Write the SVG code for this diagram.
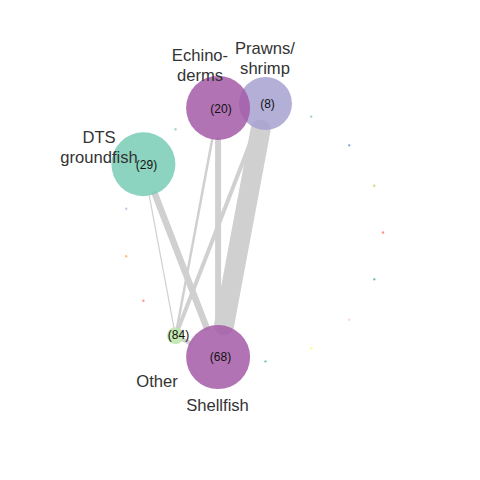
<svg xmlns="http://www.w3.org/2000/svg" width="480" height="480" viewBox="0 0 480 480">
  <style>
    .edge { stroke: #d0d0d0; stroke-linecap: round; fill: none; }
    .node { opacity: 0.85; }
    .dot { opacity: 0.85; }
    .label { font-family: "Liberation Sans", Arial, sans-serif; font-size: 16.6px; fill: #333333; text-anchor: middle; }
    .count { font-family: "Liberation Sans", Arial, sans-serif; font-size: 12px; fill: #111111; text-anchor: middle; dominant-baseline: central; }
  </style>
  <rect width="480" height="480" fill="#ffffff"/>

  <!-- connectors: edge width follows link weight -->
  <g id="edges">
    <line class="edge" x1="260.6" y1="129.6" x2="224.0" y2="325.6" stroke-width="20"/>
    <line class="edge" x1="218.1" y1="139.9" x2="218.1" y2="325.1" stroke-width="6"/>
    <line class="edge" x1="212.2" y1="139.4" x2="177.1" y2="327.4" stroke-width="2.5"/>
    <line class="edge" x1="255.9" y1="128.3" x2="178.6" y2="327.9" stroke-width="4"/>
    <line class="edge" x1="155.0" y1="194.1" x2="206.5" y2="327.3" stroke-width="6.5"/>
    <line class="edge" x1="149.3" y1="195.8" x2="173.9" y2="327.4" stroke-width="1.2"/>
    <line class="edge" x1="183.1" y1="339.6" x2="189.5" y2="342.8" stroke-width="4"/>
  </g>

  <!-- unconnected categories on the ring -->
  <g id="minor-nodes">
    <circle class="dot" cx="383.0" cy="232.5" r="1.2" fill="#fb8072"/>
    <circle class="dot" cx="374.3" cy="279.3" r="1.2" fill="#66c2a5"/>
    <circle class="dot" cx="349.2" cy="319.7" r="1.2" fill="#fccde5"/>
    <circle class="dot" cx="311.2" cy="348.4" r="1.2" fill="#ffff66"/>
    <circle class="dot" cx="265.5" cy="361.4" r="1.2" fill="#66c2a5"/>
    <circle class="dot" cx="143.4" cy="300.7" r="1.2" fill="#fc8d62"/>
    <circle class="dot" cx="126.2" cy="256.3" r="1.2" fill="#fdb462"/>
    <circle class="dot" cx="126.2" cy="208.7" r="1.2" fill="#bebada"/>
    <circle class="dot" cx="175.5" cy="129.2" r="1.2" fill="#8dd3c7"/>
    <circle class="dot" cx="311.2" cy="116.6" r="1.2" fill="#7fcdbb"/>
    <circle class="dot" cx="349.2" cy="145.3" r="1.2" fill="#80a6d8"/>
    <circle class="dot" cx="374.3" cy="185.7" r="1.2" fill="#b3de69"/>
  </g>

  <g id="node-prawns">
    <circle class="node" cx="265.5" cy="103.6" r="26.5" fill="#a7a1cf"/>
    <text class="label" x="265" y="53.5">Prawns/</text>
    <text class="label" x="265" y="73.5">shrimp</text>
    <text class="count" x="267.5" y="104">(8)</text>
  </g>

  <g id="node-echinoderms">
    <circle class="node" cx="218.1" cy="107.9" r="32" fill="#a45aa8"/>
    <text class="label" x="200" y="61">Echino-</text>
    <text class="label" x="200" y="81">derms</text>
    <text class="count" x="221" y="109">(20)</text>
  </g>

  <g id="node-dts-groundfish">
    <circle class="node" cx="143.4" cy="164.3" r="32" fill="#79ccb5"/>
    <text class="label" x="99" y="143">DTS</text>
    <text class="label" x="99" y="163">groundfish</text>
    <text class="count" x="146.5" y="165">(29)</text>
  </g>

  <g id="node-other">
    <circle class="node" cx="175.5" cy="335.8" r="8.5" fill="#bce4a7"/>
    <text class="label" x="157" y="386.5">Other</text>
    <text class="count" x="178.5" y="335">(84)</text>
  </g>

  <g id="node-shellfish">
    <circle class="node" cx="218.1" cy="357.1" r="32" fill="#a45aa8"/>
    <text class="label" x="217.5" y="410.5">Shellfish</text>
    <text class="count" x="220.5" y="356.5">(68)</text>
  </g>
</svg>
